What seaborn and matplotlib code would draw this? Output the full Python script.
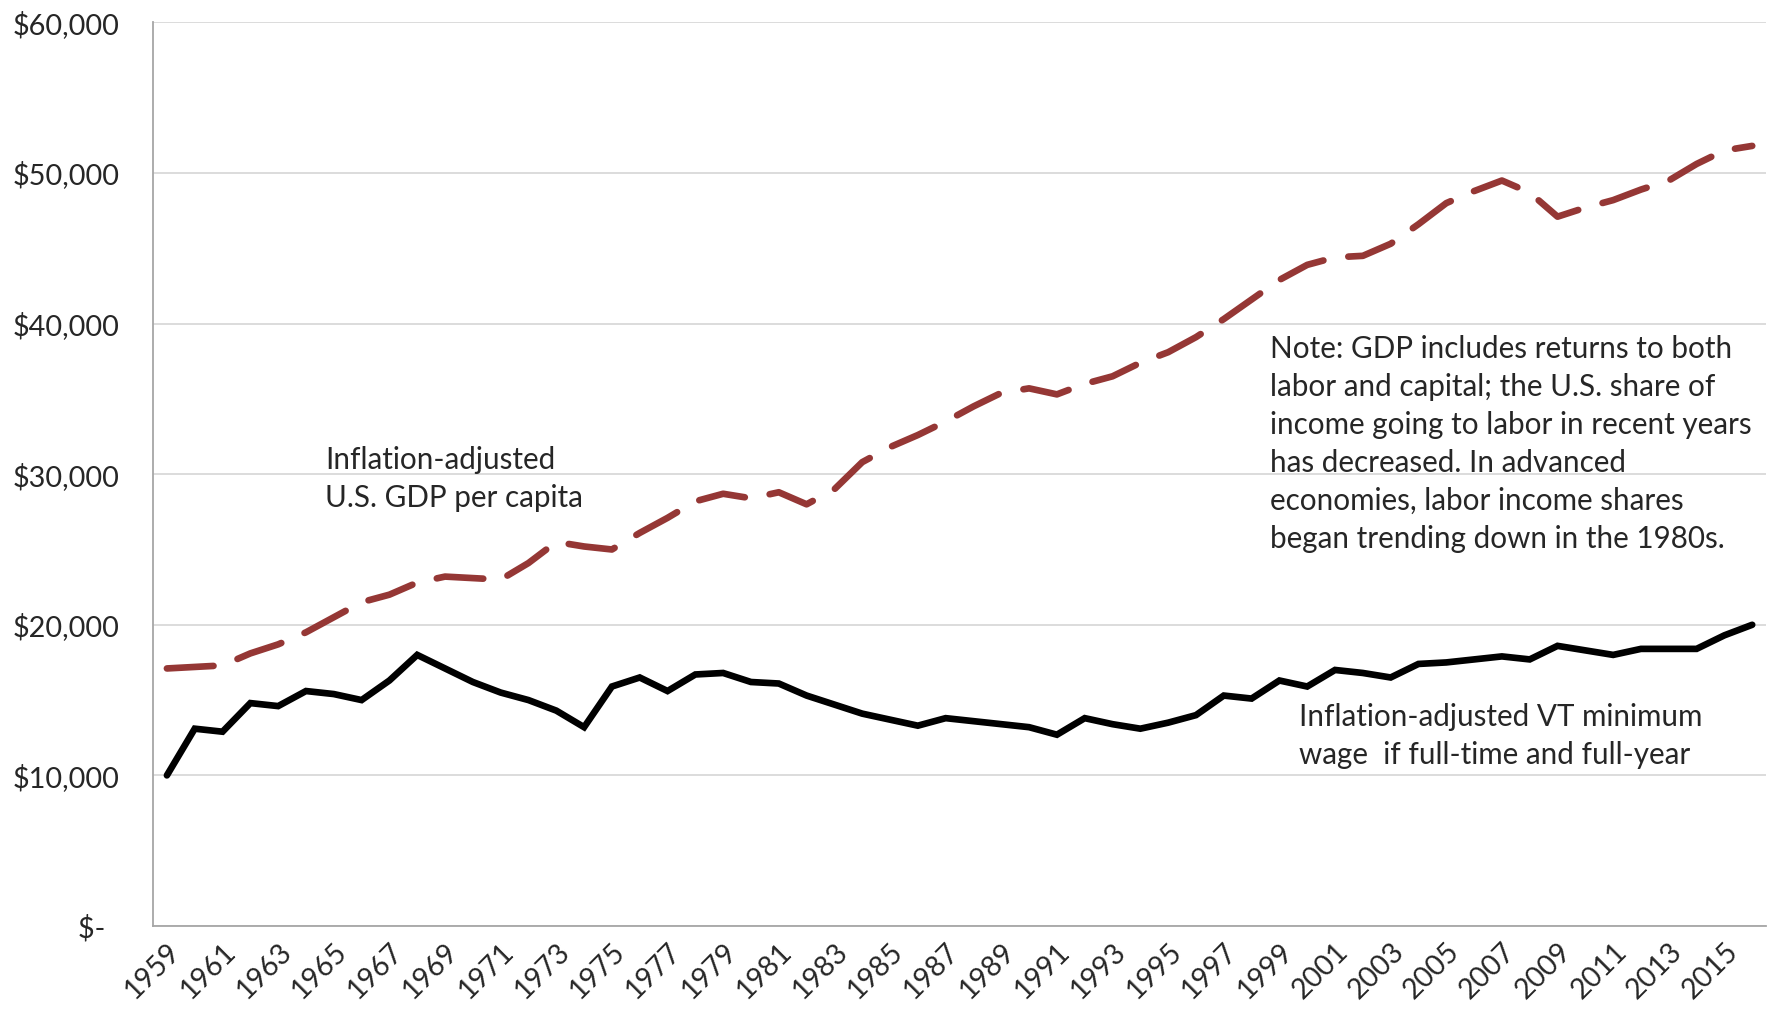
import matplotlib
matplotlib.use("Agg")
import matplotlib.pyplot as plt
import seaborn as sns

# Valores (1959-2016)
years = list(range(1959, 2017))

min_wage = [10000, 13100, 12900, 14800, 14600, 15600, 15400, 15000, 16300, 18000,
            17100, 16200, 15500, 15000, 14300, 13200, 15900, 16500, 15600, 16700,
            16800, 16200, 16100, 15300, 14700, 14100, 13700, 13300, 13800, 13600,
            13400, 13200, 12700, 13800, 13400, 13100, 13500, 14000, 15300, 15100,
            16300, 15900, 17000, 16800, 16500, 17400, 17500, 17700, 17900, 17700,
            18600, 18300, 18000, 18400, 18400, 18400, 19300, 20000]

gdp = [17100, 17200, 17300, 18100, 18700, 19500, 20500, 21500, 22000, 22800,
       23200, 23100, 23000, 24100, 25500, 25200, 25000, 26100, 27100, 28200,
       28700, 28400, 28800, 28000, 29000, 30800, 31800, 32600, 33500, 34500,
       35400, 35700, 35300, 36000, 36500, 37400, 38100, 39100, 40300, 41600,
       42900, 43900, 44400, 44500, 45300, 46600, 48000, 48800, 49500, 48700,
       47100, 47700, 48200, 48900, 49500, 50600, 51500, 51800]

y_ticks = [0, 10000, 20000, 30000, 40000, 50000, 60000]
y_labels = ["$-  ", "$10,000", "$20,000", "$30,000", "$40,000", "$50,000", "$60,000"]
x_ticks = list(range(1959, 2016, 2))

sns.set_style("white")
plt.rcParams["font.family"] = ["Lato", "DejaVu Sans"]

fig = plt.figure(figsize=(17.75, 10.19), dpi=100)
ax = fig.add_axes([0.0862, 0.0913, 0.9088, 0.8867])

sns.lineplot(x=years, y=gdp, ax=ax, color="#953735", lw=4.8,
             linestyle=(0, (7, 3.8)), dash_capstyle="round")
sns.lineplot(x=years, y=min_wage, ax=ax, color="black", lw=4.8,
             solid_joinstyle="miter")

ax.set_xlim(1958.5, 2016.5)
ax.set_ylim(0, 60000)
ax.set_yticks(y_ticks)
ax.set_yticklabels(y_labels, fontsize=20.8)
ax.set_xticks(x_ticks)
ax.set_xticklabels([str(y) for y in x_ticks], rotation=45, ha="right",
                   rotation_mode="anchor", fontsize=20.5)
ax.tick_params(axis="y", length=0, pad=24)
ax.tick_params(axis="x", length=0, pad=9)
ax.grid(axis="y", color="#D9D9D9", lw=1.3)
ax.set_axisbelow(True)
for s in ["top", "right"]:
    ax.spines[s].set_visible(False)
for s in ["left", "bottom"]:
    ax.spines[s].set_color("#A6A6A6")
    ax.spines[s].set_linewidth(1.3)

txt = dict(fontsize=21.3, va="center", ha="left", linespacing=1.43)
ax.text(1964.7, 29700, "Inflation-adjusted\nU.S. GDP per capita", **txt)
ax.text(1998.65, 32000,
        "Note: GDP includes returns to both\nlabor and capital; the U.S. share of\n"
        "income going to labor in recent years\nhas decreased. In advanced\n"
        "economies, labor income shares\nbegan trending down in the 1980s.", **txt)
ax.text(1999.7, 12630, "Inflation-adjusted VT minimum\nwage  if full-time and full-year", **txt)

fig.savefig("out.png", dpi=100)
plt.close(fig)
